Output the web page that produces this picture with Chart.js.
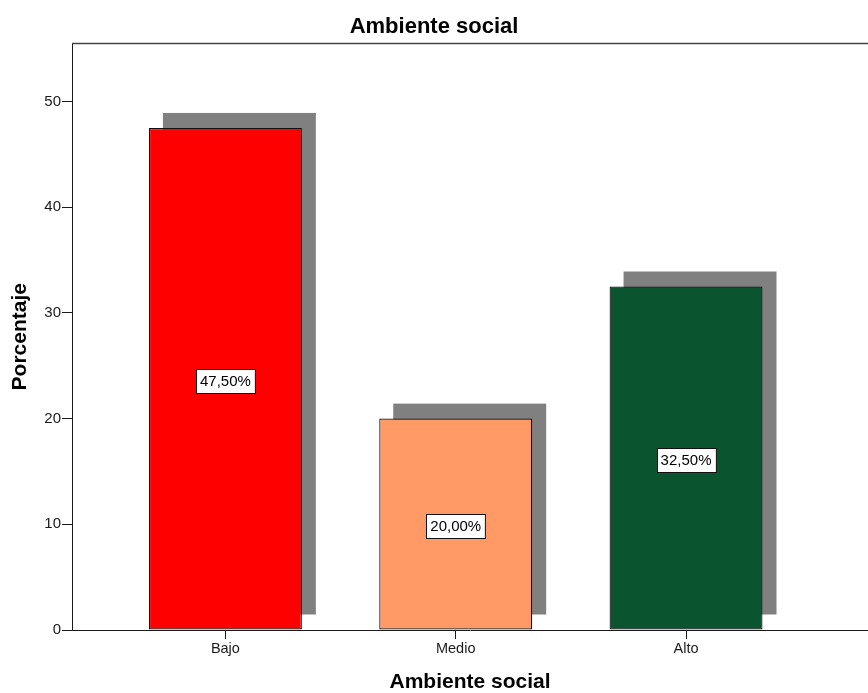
<!DOCTYPE html>
<html lang="es">
<head>
<meta charset="utf-8">
<title>Ambiente social</title>
<script src="https://cdn.jsdelivr.net/npm/chart.js@4/dist/chart.umd.min.js"></script>
<style>
  html, body { margin: 0; padding: 0; background: #ffffff; overflow: hidden; }
  #wrap { width: 868px; height: 693px; }
</style>
</head>
<body>
<div id="wrap"><canvas id="chart" width="868" height="693"></canvas></div>
<script>
// Distribución porcentual del ambiente social
const categories = ['Bajo', 'Medio', 'Alto'];
const percentages = [47.5, 20.0, 32.5];
const barColors = ['#FF0000', '#FF9966', '#0A5530'];
const yTickValues = [0, 10, 20, 30, 40, 50];

const FONT = "'Liberation Sans', Arial, sans-serif";

// Bars sit on a linear index axis (1, 2, 3) so the left margin can differ from the right one
const points = percentages.map((v, i) => ({ x: i + 1, y: v }));

// Grey block behind each bar, offset up and to the right
const barShadow = {
  id: 'barShadow',
  beforeDatasetsDraw(chart, args, opts) {
    const ctx = chart.ctx;
    const meta = chart.getDatasetMeta(0);
    ctx.save();
    ctx.fillStyle = opts.color;
    meta.data.forEach(el => {
      const left = el.x - el.width / 2 + opts.dx;
      const top = el.y - opts.dy;
      ctx.fillRect(left, top, el.width, el.base - el.y);
    });
    ctx.restore();
  }
};

// Boxed percentage label in the middle of each bar
const valueBoxes = {
  id: 'valueBoxes',
  afterDatasetsDraw(chart, args, opts) {
    const ctx = chart.ctx;
    const meta = chart.getDatasetMeta(0);
    ctx.save();
    ctx.font = opts.font;
    ctx.textAlign = 'center';
    ctx.textBaseline = 'middle';
    meta.data.forEach((el, i) => {
      const text = percentages[i].toFixed(2).replace('.', ',') + '%';
      const cy = (el.y + el.base) / 2 + opts.shiftY;
      const w = ctx.measureText(text).width + opts.padX * 2;
      const h = opts.height;
      const x0 = Math.round(el.x - w / 2) + 0.5;
      const y0 = Math.round(cy - h / 2) + 0.5;
      ctx.fillStyle = '#ffffff';
      ctx.fillRect(x0, y0, w, h);
      ctx.strokeStyle = '#111111';
      ctx.lineWidth = 1;
      ctx.strokeRect(x0, y0, w, h);
      ctx.fillStyle = '#000000';
      ctx.fillText(text, el.x, cy + 1);
    });
    ctx.restore();
  }
};

// Top edge of the plot frame
const plotFrame = {
  id: 'plotFrame',
  afterDraw(chart) {
    const { ctx, chartArea } = chart;
    ctx.save();
    ctx.strokeStyle = '#444444';
    ctx.lineWidth = 1.5;
    ctx.beginPath();
    ctx.moveTo(chartArea.left, chartArea.top);
    ctx.lineTo(chartArea.right, chartArea.top);
    ctx.stroke();
    ctx.restore();
  }
};

new Chart(document.getElementById('chart'), {
  type: 'bar',
  data: {
    datasets: [{
      data: points,
      backgroundColor: barColors,
      borderColor: '#111111',
      borderWidth: 1.2,
      borderSkipped: false,
      categoryPercentage: 1,
      barPercentage: 0.664
    }]
  },
  options: {
    responsive: false,
    animation: false,
    devicePixelRatio: 1,
    layout: { padding: 0 },
    plugins: {
      legend: { display: false },
      tooltip: { enabled: false },
      title: {
        display: true,
        text: 'Ambiente social',
        color: '#000000',
        font: { family: FONT, size: 22, weight: 'bold', lineHeight: 1.2 },
        padding: { top: 14, bottom: 3 }
      },
      barShadow: { color: '#808080', dx: 14, dy: 15 },
      valueBoxes: { font: '15px ' + FONT, padX: 4, height: 24, shiftY: 2 }
    },
    scales: {
      x: {
        type: 'linear',
        offset: false,
        min: 0.334,
        max: 3.79,
        afterBuildTicks(scale) {
          scale.ticks = categories.map((c, i) => ({ value: i + 1 }));
        },
        afterFit(scale) { scale.height = 63; },
        ticks: {
          callback: (value) => categories[Math.round(value) - 1],
          color: '#1a1a1a',
          font: { family: FONT, size: 14.5 },
          padding: 1,
          maxRotation: 0,
          autoSkip: false
        },
        grid: {
          offset: false,
          drawOnChartArea: false,
          drawTicks: true,
          tickLength: 9,
          color: '#1a1a1a'
        },
        border: { display: true, color: '#1a1a1a', width: 1 },
        title: {
          display: true,
          text: 'Ambiente social',
          color: '#000000',
          font: { family: FONT, size: 21, weight: 'bold', lineHeight: 1 },
          padding: { top: 0, bottom: 0 }
        }
      },
      y: {
        type: 'linear',
        min: 0,
        max: 55.5,
        afterBuildTicks(scale) {
          scale.ticks = yTickValues.map(v => ({ value: v }));
        },
        afterFit(scale) { scale.width = 72; },
        ticks: {
          stepSize: 10,
          includeBounds: false,
          color: '#1a1a1a',
          font: { family: FONT, size: 15 },
          padding: 1
        },
        grid: {
          drawOnChartArea: false,
          drawTicks: true,
          tickLength: 10,
          color: '#1a1a1a'
        },
        border: { display: true, color: '#1a1a1a', width: 1 },
        title: {
          display: true,
          text: 'Porcentaje',
          color: '#000000',
          font: { family: FONT, size: 21, weight: 'bold', lineHeight: 1 },
          padding: { top: 10, bottom: 0 }
        }
      }
    }
  },
  plugins: [barShadow, valueBoxes, plotFrame]
});
</script>
</body>
</html>
